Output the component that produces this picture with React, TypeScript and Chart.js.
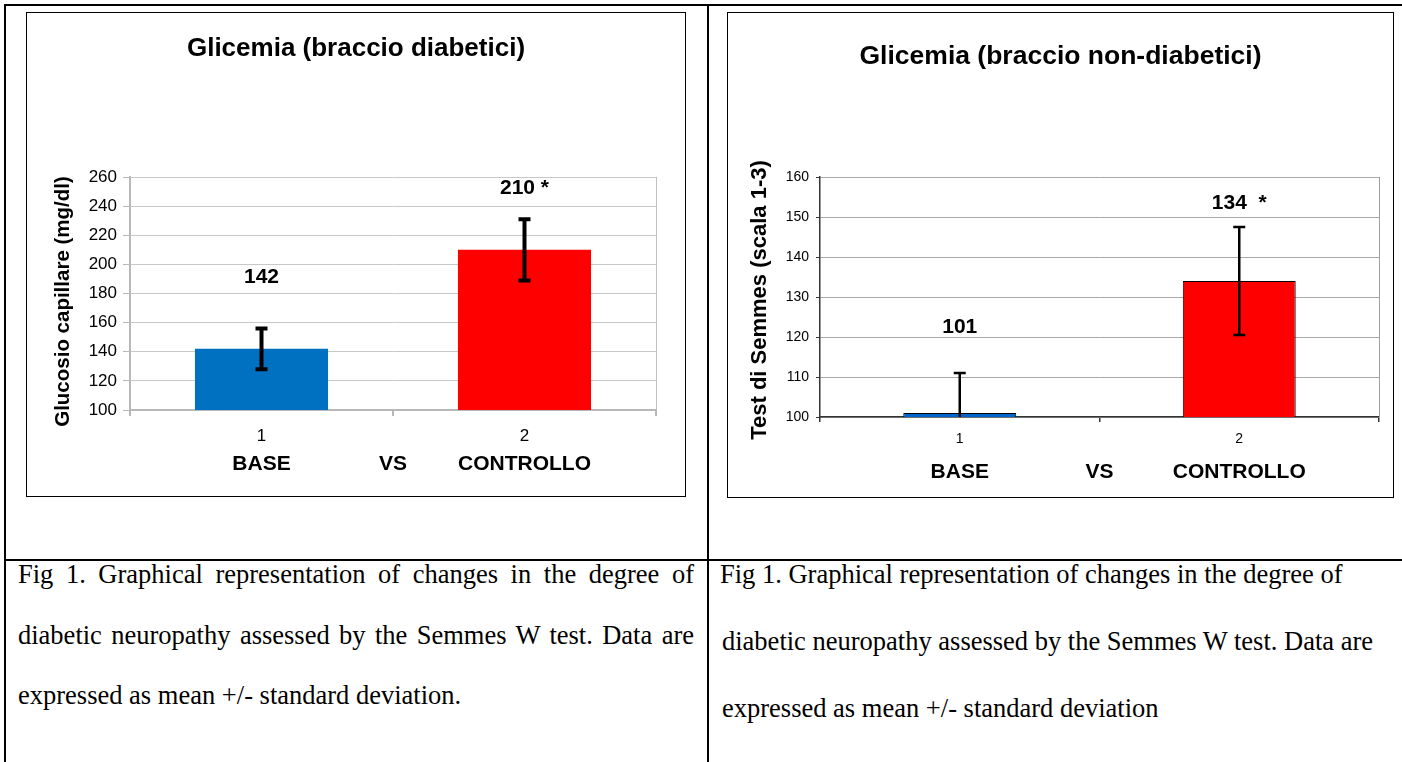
import React, { useEffect, useRef } from 'react';
import { Chart, registerables } from 'chart.js';

Chart.register(...registerables);

const SANS = "'Liberation Sans', Arial, Helvetica, sans-serif";
const SERIF = "'Liberation Serif', 'Times New Roman', Times, serif";

// ---------- data ----------
const categories = ['1', '2'];
const groupLabels = ['BASE', 'VS', 'CONTROLLO'];

const leftTitle = 'Glicemia (braccio diabetici)';
const leftYTitle = 'Glucosio capillare (mg/dl)';
const leftMeans = [142, 210];
const leftSD = [14, 21];
const leftValueLabels = ['142', '210 *'];
const leftLabelAnchors = [191, 252];
const leftAxis = [100, 260, 20]; // min, max, step
const leftColors = ['#0070C0', '#FF0000'];

const rightTitle = 'Glicemia (braccio non-diabetici)';
const rightYTitle = 'Test di Semmes (scala 1-3)';
const rightMeans = [101, 134];
const rightSD = [10, 13.5];
const rightValueLabels = ['101', '134  *'];
const rightLabelAnchors = [122.5, 153.5];
const rightAxis = [100, 160, 10];
const rightColors = ['#0066CC', '#FF0000'];

const captionLeft = [
  'Fig 1. Graphical representation of changes in the degree of',
  'diabetic neuropathy assessed by the Semmes W test. Data are',
  'expressed as mean +/- standard deviation.',
];
const captionRight = [
  'Fig 1. Graphical representation of changes in the degree of',
  'diabetic neuropathy assessed by the Semmes W test. Data are',
  'expressed as mean +/- standard deviation',
];

type Spec = {
  title: string;
  yTitle: string;
  means: number[];
  sd: number[];
  valueLabels: string[];
  labelAnchors: number[];
  axis: number[];
  colors: string[];
  barBorder: number;
  barPct: number;
  padRight: number;
  padTop: number;
  yWidth: number;
  xHeight: number;
  tickFont: number;
  yTickPad: number;
  yTickLen: number;
  xTickLen: number;
  xTickPad: number;
  yTitleFont: number;
  yTitleX: number;
  yTitleShift: number;
  gridColor: string;
  axisColor: string;
  axisWidth: number;
  tickColor: string;
  frameColor: string;
  errWidth: number;
  capHalf: number;
  valueFont: number;
  groupFont: number;
  groupOffset: number;
  titleFont: number;
  titleBaseline: number;
};

const leftSpec: Spec = {
  title: leftTitle,
  yTitle: leftYTitle,
  means: leftMeans,
  sd: leftSD,
  valueLabels: leftValueLabels,
  labelAnchors: leftLabelAnchors,
  axis: leftAxis,
  colors: leftColors,
  barBorder: 0,
  barPct: 0.506,
  padRight: 29,
  padTop: 164,
  yWidth: 103,
  xHeight: 86,
  tickFont: 17,
  yTickPad: 6,
  yTickLen: 7,
  xTickLen: 6,
  xTickPad: 10,
  yTitleFont: 20.5,
  yTitleX: 36,
  yTitleShift: 8,
  gridColor: '#c8c8c8',
  axisColor: '#b8b8b8',
  axisWidth: 2,
  tickColor: '#b8b8b8',
  frameColor: '#c0c0c0',
  errWidth: 4,
  capHalf: 6,
  valueFont: 21,
  groupFont: 21,
  groupOffset: 54.5,
  titleFont: 26,
  titleBaseline: 43,
};

const rightSpec: Spec = {
  title: rightTitle,
  yTitle: rightYTitle,
  means: rightMeans,
  sd: rightSD,
  valueLabels: rightValueLabels,
  labelAnchors: rightLabelAnchors,
  axis: rightAxis,
  colors: rightColors,
  barBorder: 1,
  barPct: 0.404,
  padRight: 14,
  padTop: 164,
  yWidth: 92,
  xHeight: 80,
  tickFont: 14,
  yTickPad: 7,
  yTickLen: 4,
  xTickLen: 5,
  xTickPad: 9,
  yTitleFont: 22,
  yTitleX: 32,
  yTitleShift: 3,
  gridColor: '#a8a8a8',
  axisColor: '#333333',
  axisWidth: 1.5,
  tickColor: '#333333',
  frameColor: '#a0a0a0',
  errWidth: 2.5,
  capHalf: 6,
  valueFont: 21,
  groupFont: 21,
  groupOffset: 55.5,
  titleFont: 26.5,
  titleBaseline: 51,
};

function makeOverlay(s: Spec) {
  return {
    id: 'overlay',
    beforeDatasetsDraw(chart: any) {
      const { ctx, chartArea: a } = chart;
      ctx.save();
      ctx.strokeStyle = s.frameColor;
      ctx.lineWidth = 1;
      ctx.beginPath();
      ctx.moveTo(a.right + 0.5, a.top);
      ctx.lineTo(a.right + 0.5, a.bottom);
      ctx.stroke();
      ctx.restore();
    },
    afterDatasetsDraw(chart: any) {
      const { ctx, chartArea: a } = chart;
      const ys = chart.scales.y;
      const xs = chart.scales.x;
      // error bars
      ctx.save();
      ctx.beginPath();
      ctx.rect(a.left, a.top, a.right - a.left, a.bottom - a.top);
      ctx.clip();
      ctx.strokeStyle = '#000';
      ctx.lineWidth = s.errWidth;
      ctx.lineCap = 'butt';
      s.means.forEach((m, i) => {
        const x = xs.getPixelForValue(i);
        const yt = ys.getPixelForValue(m + s.sd[i]);
        const yb = ys.getPixelForValue(m - s.sd[i]);
        ctx.beginPath();
        ctx.moveTo(x, yt);
        ctx.lineTo(x, yb);
        ctx.moveTo(x - s.capHalf, yt);
        ctx.lineTo(x + s.capHalf, yt);
        ctx.moveTo(x - s.capHalf, yb);
        ctx.lineTo(x + s.capHalf, yb);
        ctx.stroke();
      });
      ctx.restore();

      ctx.save();
      ctx.fillStyle = '#000';
      ctx.textAlign = 'center';
      ctx.textBaseline = 'middle';
      ctx.font = `bold ${s.valueFont}px ${SANS}`;
      s.valueLabels.forEach((t, i) => {
        ctx.fillText(t, xs.getPixelForValue(i), ys.getPixelForValue(s.labelAnchors[i]));
      });
      const x0 = xs.getPixelForValue(0);
      const x1 = xs.getPixelForValue(1);
      const gy = a.bottom + s.groupOffset;
      ctx.font = `bold ${s.groupFont}px ${SANS}`;
      [x0, (x0 + x1) / 2, x1].forEach((x, i) => ctx.fillText(groupLabels[i], x, gy));

      ctx.font = `bold ${s.titleFont}px ${SANS}`;
      ctx.textBaseline = 'alphabetic';
      ctx.fillText(s.title, chart.width / 2, s.titleBaseline);

      // y axis title (rotated)
      ctx.font = `bold ${s.yTitleFont}px ${SANS}`;
      ctx.textBaseline = 'middle';
      ctx.translate(s.yTitleX, (a.top + a.bottom) / 2 + s.yTitleShift);
      ctx.rotate(-Math.PI / 2);
      ctx.fillText(s.yTitle, 0, 0);
      ctx.restore();
    },
  };
}

function buildConfig(s: Spec): any {
  return {
    type: 'bar',
    data: {
      labels: categories,
      datasets: [
        {
          data: s.means,
          backgroundColor: s.colors,
          borderColor: '#000',
          borderWidth: s.barBorder,
          borderSkipped: false,
          barPercentage: s.barPct,
          categoryPercentage: 1,
        },
      ],
    },
    options: {
      responsive: false,
      animation: false,
      devicePixelRatio: 1,
      layout: { padding: { left: 0, right: s.padRight, top: s.padTop, bottom: 0 } },
      plugins: {
        legend: { display: false },
        tooltip: { enabled: false },
        title: { display: false },
      },
      scales: {
        x: {
          type: 'category',
          offset: true,
          grid: {
            offset: true,
            drawOnChartArea: false,
            drawTicks: true,
            tickLength: s.xTickLen,
            color: s.tickColor,
            lineWidth: s.axisWidth,
          },
          border: { color: s.axisColor, width: s.axisWidth },
          ticks: {
            color: '#000',
            font: { family: SANS, size: s.tickFont },
            padding: s.xTickPad,
          },
          afterFit: (sc: any) => {
            sc.height = s.xHeight;
          },
        },
        y: {
          min: s.axis[0],
          max: s.axis[1],
          ticks: {
            stepSize: s.axis[2],
            color: '#000',
            font: { family: SANS, size: s.tickFont },
            padding: s.yTickPad,
          },
          grid: {
            color: s.gridColor,
            lineWidth: 1,
            tickLength: s.yTickLen,
            tickColor: s.tickColor,
          },
          border: { color: s.axisColor, width: s.axisWidth },
          title: { display: false },
          afterFit: (sc: any) => {
            sc.width = s.yWidth;
          },
        },
      },
    },
    plugins: [makeOverlay(s)],
  };
}

function BarPanel(props: { spec: Spec; left: number; top: number; width: number; height: number }) {
  const ref = useRef<HTMLCanvasElement>(null);
  useEffect(() => {
    if (!ref.current) return;
    const chart = new Chart(ref.current, buildConfig(props.spec));
    return () => chart.destroy();
  }, []);
  return (
    <canvas
      ref={ref}
      width={props.width}
      height={props.height}
      style={{ position: 'absolute', left: props.left, top: props.top, width: props.width, height: props.height }}
    />
  );
}

const CAP_SIZE = 26.5;

function CaptionLine(props: { text: string; left: number; center: number; width?: number; justify?: boolean }) {
  return (
    <div
      style={{
        position: 'absolute',
        left: props.left,
        top: props.center - 18,
        width: props.width,
        whiteSpace: props.justify ? 'normal' : 'nowrap',
        fontFamily: SERIF,
        fontSize: CAP_SIZE,
        lineHeight: '30px',
        color: '#000',
        textAlign: props.justify ? 'justify' : 'left',
        textAlignLast: props.justify ? 'justify' : 'auto',
      } as React.CSSProperties}
    >
      {props.text}
    </div>
  );
}

function Rule(props: { l: number; t: number; w: number; h: number }) {
  return <div style={{ position: 'absolute', left: props.l, top: props.t, width: props.w, height: props.h, background: '#000' }} />;
}

export default function App() {
  const leftCenters = [577, 638, 698];
  const rightCenters = [577, 644, 711];
  return (
    <div style={{ position: 'absolute', left: 0, top: 0, width: 1402, height: 762, overflow: 'hidden', background: '#fff' }}>
      <Rule l={4} t={4} w={1398} h={2} />
      <Rule l={4} t={4} w={2} h={758} />
      <Rule l={707} t={4} w={2} h={758} />
      <Rule l={4} t={559} w={1398} h={2} />

      <div style={{ position: 'absolute', left: 26, top: 12, width: 660, height: 485, border: '1px solid #000', boxSizing: 'border-box' }} />
      <BarPanel spec={leftSpec} left={27} top={13} width={658} height={483} />

      <div style={{ position: 'absolute', left: 727, top: 12, width: 667, height: 486, border: '1px solid #000', boxSizing: 'border-box' }} />
      <BarPanel spec={rightSpec} left={728} top={13} width={665} height={484} />

      {captionLeft.map((t, i) => (
        <CaptionLine key={'l' + i} text={t} left={18} center={leftCenters[i]} width={i < 2 ? 676 : undefined} justify={i < 2} />
      ))}
      {captionRight.map((t, i) => (
        <CaptionLine key={'r' + i} text={t} left={i === 0 ? 720 : 722} center={rightCenters[i]} />
      ))}
    </div>
  );
}
